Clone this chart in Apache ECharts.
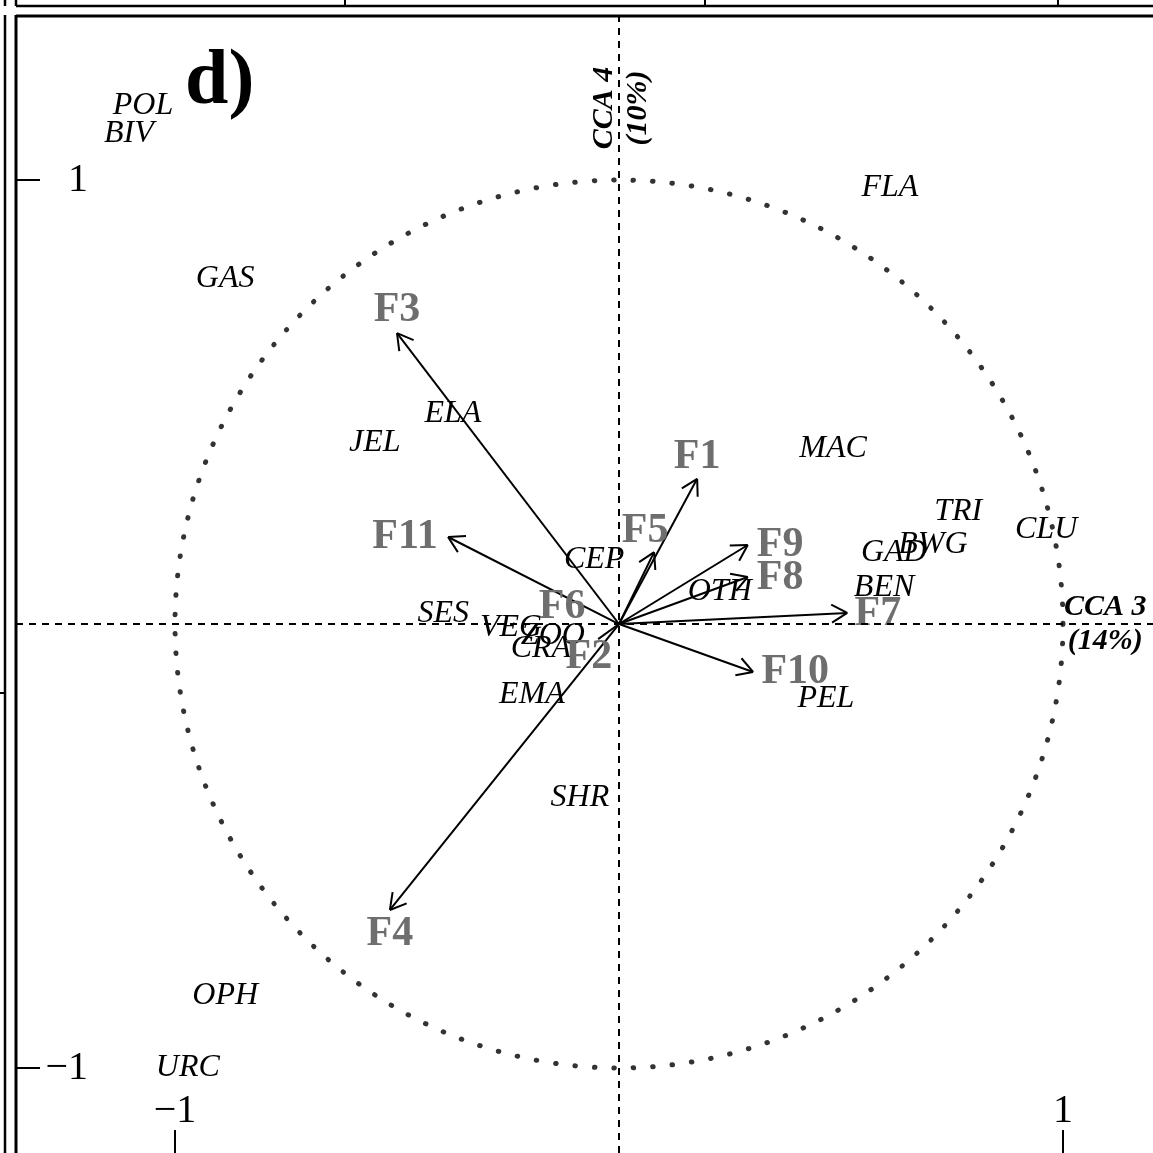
<!DOCTYPE html>
<html>
<head>
<meta charset="utf-8">
<script src="https://cdn.jsdelivr.net/npm/echarts@6/dist/echarts.min.js"></script>
<style>
html,body{margin:0;padding:0;background:#fff;}
#c{width:1153px;height:1153px;}
</style>
</head>
<body>
<div id="c"></div>
<script>
// ---- data ----
var speciesNames = ['POL','BIV','FLA','GAS','ELA','JEL','MAC','TRI','CLU','BWG','GAD','BEN','PEL','CEP','OTH','SES','VEG','ZOO','CRA','EMA','SHR','OPH','URC'];
var speciesX = [-1.072,-1.104,0.610,-0.887,-0.374,-0.550,0.482,0.764,0.962,0.707,0.619,0.597,0.466,-0.056,0.227,-0.396,-0.243,-0.149,-0.176,-0.196,-0.088,-0.887,-0.971];
var speciesY = [1.167,1.104,0.982,0.777,0.473,0.408,0.396,0.254,0.212,0.180,0.160,0.083,-0.169,0.146,0.074,0.023,-0.007,-0.025,-0.056,-0.158,-0.390,-0.838,-1.000];

var envNames = ['F1','F2','F3','F4','F5','F6','F7','F8','F9','F10','F11'];
var envX = [0.176,-0.047,-0.500,-0.516,0.079,-0.010,0.514,0.290,0.290,0.302,-0.385];
var envY = [0.327,-0.034,0.655,-0.644,0.162,0.003,0.025,0.106,0.178,-0.108,0.196];
var envLabelX = [0.176,-0.068,-0.500,-0.516,0.059,-0.128,0.583,0.363,0.363,0.397,-0.482];
var envLabelY = [0.376,-0.074,0.707,-0.698,0.210,0.038,0.023,0.104,0.178,-0.109,0.196];

var axisTitleNames = ['CCA 3\n(14%)','CCA 4\n(10%)'];
var axisTitleX = [1.095, 0.005];
var axisTitleY = [0.0, 1.162];

var xTicks = [-1, 1];
var yTicks = [-1, 1];

var xMin = -1.3581, xMax = 1.2027, yMin = -1.1914, yMax = 1.3694;

// ---- build ----
var serif = 'Liberation Serif';
function fmt(v){ return v < 0 ? '\u2212' + Math.abs(v) : String(v); }

var speciesData = speciesNames.map(function(n,i){ return {name:n, value:[speciesX[i], speciesY[i]]}; });
var arrowData = envNames.map(function(n,i){ return {name:n, value:[envX[i], envY[i]]}; });
var envLabelData = envNames.map(function(n,i){ return {name:n, value:[envLabelX[i], envLabelY[i]]}; });
var axisTitleData = axisTitleNames.map(function(n,i){
  var d = {name:n, value:[axisTitleX[i], axisTitleY[i]]};
  if (i === 1) d.label = {rotate: 90};
  return d;
});

var chart = echarts.init(document.getElementById('c'), null, {renderer:'canvas'});

function L(x1,y1,x2,y2,w){
  return {type:'line', shape:{x1:x1,y1:y1,x2:x2,y2:y2}, style:{stroke:'#000', lineWidth:w||2.5}, silent:true};
}

var option = {
  animation:false,
  backgroundColor:'#fff',
  title:{
    text:'d)', left:185, top:44, padding:0,
    textStyle:{fontFamily:serif, fontWeight:'bold', fontSize:78, color:'#000'}
  },
  grid:{left:16, top:16, right:0, bottom:0, containLabel:false},
  xAxis:{
    type:'value', min:xMin, max:xMax, position:'bottom',
    axisLine:{show:false, onZero:false}, splitLine:{show:false},
    axisTick:{show:true, inside:true, length:23, customValues:xTicks, lineStyle:{color:'#000', width:2}},
    axisLabel:{show:true, inside:true, margin:22, customValues:xTicks, formatter:fmt,
      fontFamily:serif, fontSize:40, color:'#000'}
  },
  yAxis:{
    type:'value', min:yMin, max:yMax, position:'left',
    axisLine:{show:false, onZero:false}, splitLine:{show:false},
    axisTick:{show:true, inside:true, length:24, customValues:yTicks, lineStyle:{color:'#000', width:2}},
    axisLabel:{show:true, inside:true, margin:72, align:'right', customValues:yTicks, formatter:fmt,
      fontFamily:serif, fontSize:40, color:'#000'}
  },
  graphic:[
    L(5,0,5,6), L(16,0,16,6), L(16,6,1153,6),
    L(345,0,345,6,2), L(705,0,705,6,2), L(1058,0,1058,6,2),
    L(5,15,5,1153), L(0,693,5,693,2),
    L(16,15,16,1153,3), L(16,16,1153,16,3)
  ],
  series:[
    {
      type:'custom', coordinateSystem:'cartesian2d', z:1, silent:true,
      data:[[0,0]],
      renderItem:function(params, api){
        var c = api.coord([0,0]);
        var r = api.size([1,1])[0];
        return {type:'circle', shape:{cx:c[0], cy:c[1], r:r},
          style:{fill:null, stroke:'#333', lineWidth:5, lineDash:[0.5, 19.0], lineCap:'round'}};
      },
      markLine:{
        silent:true, symbol:['none','none'], label:{show:false},
        lineStyle:{type:[7,6], color:'#000', width:2},
        data:[{xAxis:0},{yAxis:0}]
      }
    },
    {
      type:'scatter', z:2, symbolSize:0, silent:true,
      itemStyle:{opacity:1},
      data:speciesData,
      label:{show:true, position:'inside', formatter:'{b}', fontFamily:serif, fontStyle:'italic',
        fontSize:32, color:'#000', opacity:1}
    },
    {
      type:'custom', coordinateSystem:'cartesian2d', z:3, silent:true,
      data:arrowData,
      renderItem:function(params, api){
        var p0 = api.coord([0,0]);
        var p1 = api.coord([api.value(0), api.value(1)]);
        var dx = p1[0]-p0[0], dy = p1[1]-p0[1];
        var len = Math.sqrt(dx*dx+dy*dy);
        var st = {stroke:'#000', lineWidth:2};
        var ch = [{type:'line', shape:{x1:p0[0], y1:p0[1], x2:p1[0], y2:p1[1]}, style:st}];
        if (len > 30) {
          var a = Math.atan2(dy, dx), h = 18, s = Math.PI/6;
          ch.push({type:'line', shape:{x1:p1[0], y1:p1[1], x2:p1[0]-h*Math.cos(a-s), y2:p1[1]-h*Math.sin(a-s)}, style:st});
          ch.push({type:'line', shape:{x1:p1[0], y1:p1[1], x2:p1[0]-h*Math.cos(a+s), y2:p1[1]-h*Math.sin(a+s)}, style:st});
        }
        return {type:'group', children:ch};
      }
    },
    {
      type:'scatter', z:4, symbolSize:0, silent:true,
      itemStyle:{opacity:1},
      data:envLabelData,
      label:{show:true, position:'inside', formatter:'{b}', fontFamily:serif, fontWeight:'bold',
        fontSize:42, color:'#6e6e6e', opacity:1}
    },
    {
      type:'scatter', z:5, symbolSize:0, silent:true,
      itemStyle:{opacity:1},
      data:axisTitleData,
      label:{show:true, position:'inside', formatter:'{b}', fontFamily:serif, fontWeight:'bold',
        fontStyle:'italic', fontSize:30, lineHeight:34, color:'#000', align:'center', opacity:1}
    }
  ]
};
chart.setOption(option);
</script>
</body>
</html>
